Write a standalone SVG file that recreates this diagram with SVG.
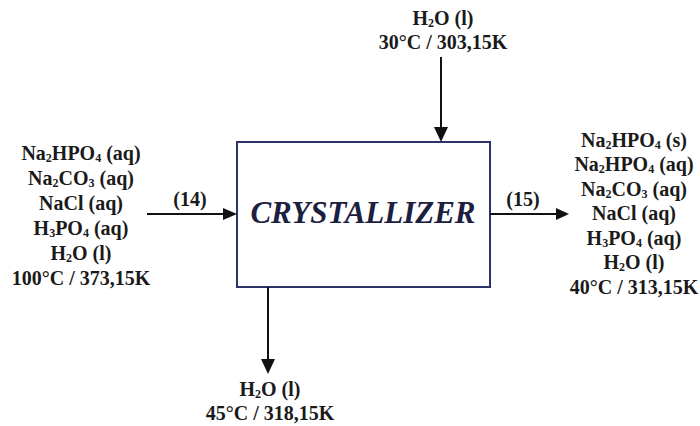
<svg xmlns="http://www.w3.org/2000/svg" width="700" height="426" viewBox="0 0 700 426">
<defs>
<style>
.t{font-family:'Liberation Serif',Tinos,'Times New Roman','DejaVu Serif',serif;font-weight:700;font-size:20px;fill:#1a1a1a;text-anchor:middle}
.s{font-size:12px;baseline-shift:-2px}
.ln{stroke:#111;stroke-width:2;fill:none}
.box{fill:#fff;stroke:#2b3468;stroke-width:2}
.title{font-family:'Liberation Serif',Tinos,'Times New Roman','DejaVu Serif',serif;font-weight:700;font-style:italic;font-size:31px;fill:#1c2040;text-anchor:middle}
</style>
</defs>
<rect width="700" height="426" fill="#fff"/>
<g id="crystallizer">
<rect class="box" x="237" y="142" width="253" height="145"/>
<text class="title" x="363" y="223">CRYSTALLIZER</text>
</g>
<g id="connectors">
<line class="ln" x1="147" y1="214" x2="226" y2="214"/>
<path d="M223,208 L237,214 L223,220 z" fill="#111"/>
<line class="ln" x1="490" y1="214" x2="560" y2="214"/>
<path d="M556,208 L569,214 L556,220 z" fill="#111"/>
<line class="ln" x1="441" y1="57" x2="441" y2="130"/>
<path d="M434,127 L441,142 L448,127 z" fill="#111"/>
<line class="ln" x1="268" y1="287" x2="268" y2="362"/>
<path d="M261,359 L268,374 L275,359 z" fill="#111"/>
<text class="t" x="190" y="206">(14)</text>
<text class="t" x="523" y="206">(15)</text>
</g>
<g id="feed">
<text class="t" x="81" y="160">Na<tspan class="s">2</tspan>HPO<tspan class="s">4</tspan> (aq)</text>
<text class="t" x="81" y="185">Na<tspan class="s">2</tspan>CO<tspan class="s">3</tspan> (aq)</text>
<text class="t" x="81" y="210">NaCl (aq)</text>
<text class="t" x="81" y="235">H<tspan class="s">3</tspan>PO<tspan class="s">4</tspan> (aq)</text>
<text class="t" x="81" y="260">H<tspan class="s">2</tspan>O (l)</text>
<text class="t" x="81" y="285">100°C / 373,15K</text>
</g>
<g id="water-in">
<text class="t" x="443" y="25">H<tspan class="s">2</tspan>O  (l)</text>
<text class="t" x="443" y="49">30°C / 303,15K</text>
</g>
<g id="product">
<text class="t" x="634" y="147">Na<tspan class="s">2</tspan>HPO<tspan class="s">4</tspan> (s)</text>
<text class="t" x="634" y="171">Na<tspan class="s">2</tspan>HPO<tspan class="s">4</tspan> (aq)</text>
<text class="t" x="634" y="196">Na<tspan class="s">2</tspan>CO<tspan class="s">3</tspan> (aq)</text>
<text class="t" x="634" y="220">NaCl (aq)</text>
<text class="t" x="634" y="245">H<tspan class="s">3</tspan>PO<tspan class="s">4</tspan> (aq)</text>
<text class="t" x="634" y="269">H<tspan class="s">2</tspan>O (l)</text>
<text class="t" x="634" y="294">40°C / 313,15K</text>
</g>
<g id="water-out">
<text class="t" x="270" y="396">H<tspan class="s">2</tspan>O  (l)</text>
<text class="t" x="270" y="420">45°C / 318,15K</text>
</g>
</svg>
